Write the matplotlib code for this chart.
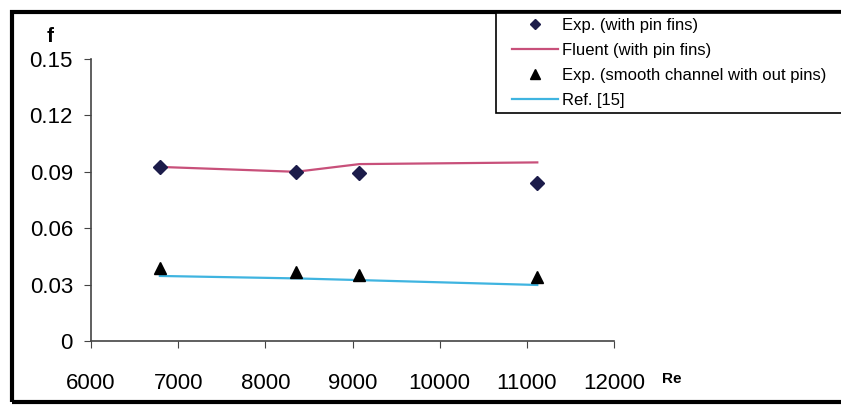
import matplotlib
matplotlib.use('Agg')
from matplotlib import pyplot as plt
from matplotlib.patches import Rectangle

plt.rcParams['font.family'] = ['Liberation Sans', 'DejaVu Sans']

# Reynolds numbers of the test points
re_vals = [6790, 8350, 9080, 11120]
# friction factor, channel with pin fins
f_exp_pins = [0.0926, 0.0899, 0.0892, 0.0839]
f_fluent_pins = [0.0926, 0.0900, 0.0941, 0.0950]
# friction factor, smooth channel
f_exp_smooth = [0.0388, 0.0369, 0.0351, 0.0342]
f_ref15 = [0.0346, 0.0333, 0.0324, 0.0298]

labels = ['Exp. (with pin fins)', 'Fluent (with pin fins)',
          'Exp. (smooth channel with out pins)', 'Ref. [15]']

fh = plt.figure(figsize=(8.41, 4.07), dpi=100)
ah = fh.add_axes([91/841, 1-341/407, (614-91)/841, (341-59)/407])

h1, = ah.plot(re_vals, f_exp_pins, linestyle='none', marker='D', markersize=7,
              color='#1c1c4a', zorder=4)
h2, = ah.plot(re_vals, f_fluent_pins, color='#c8507a', linewidth=1.6, zorder=3)
h3, = ah.plot(re_vals, f_exp_smooth, linestyle='none', marker='^', markersize=9,
              color='black', zorder=4)
h4, = ah.plot(re_vals, f_ref15, color='#3fb4e0', linewidth=1.6, zorder=3)

ah.set_xlim(6000, 12000)
ah.set_ylim(0, 0.15)
ah.set_xticks([6000, 7000, 8000, 9000, 10000, 11000, 12000])
ah.set_yticks([0, 0.03, 0.06, 0.09, 0.12, 0.15])
ah.set_yticklabels(['0', '0.03', '0.06', '0.09', '0.12', '0.15'])
ah.tick_params(labelsize=16, length=5, color='#444444', pad=8)
ah.tick_params(axis='x', pad=18)
for side in ['top', 'right']:
    ah.spines[side].set_visible(False)
for side in ['left', 'bottom']:
    ah.spines[side].set_color('#444444')
    ah.spines[side].set_linewidth(1.2)

fh.text(50/841, 1-37/407, 'f', fontsize=15, fontweight='bold', ha='center', va='center')
fh.text(662/841, 1-379/407, 'Re', fontsize=11, fontweight='bold', ha='left', va='center')

# outer frame of the figure (right side runs off the picture)
fh.patches.append(Rectangle((12/841, 1-402/407), 900/841, 390/407, transform=fh.transFigure,
                            fill=False, edgecolor='black', linewidth=3))
# legend box, also running off the right edge
fh.patches.append(Rectangle((496/841, 1-113/407), 400/841, 100/407, transform=fh.transFigure,
                            facecolor='white', edgecolor='black', linewidth=1.2, zorder=5))

leg = fh.legend([h1, h2, h3, h4], labels, loc='upper left',
                bbox_to_anchor=(512/841, 1-18/407), fontsize=12, frameon=False,
                handlelength=2.75, labelspacing=0.6, borderpad=0, handletextpad=0.25,
                borderaxespad=0, markerscale=0.75)
leg.set_zorder(6)

plt.savefig('out.png', dpi=100)
